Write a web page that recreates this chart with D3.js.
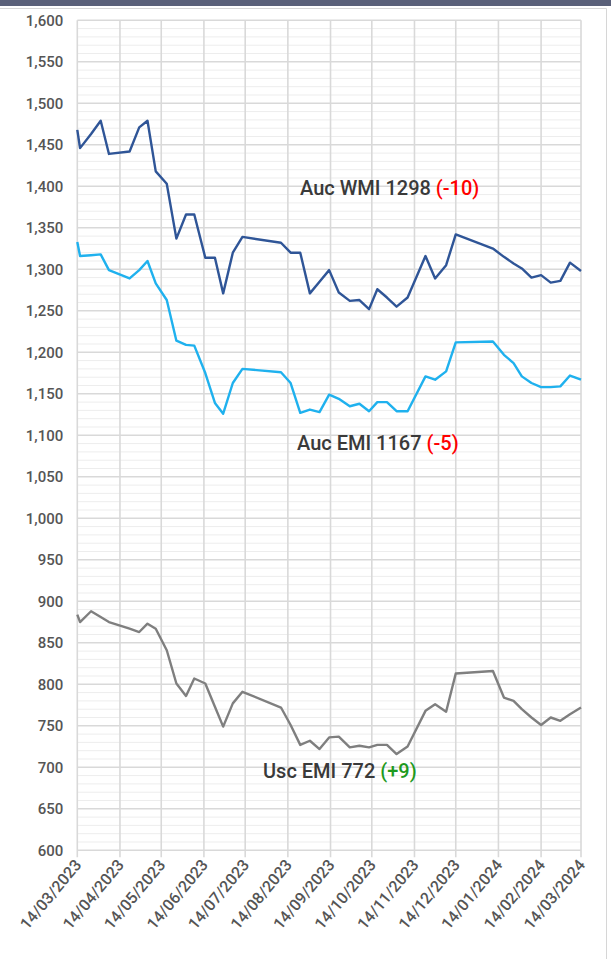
<!DOCTYPE html>
<html>
<head>
<meta charset="utf-8">
<script src="https://cdn.jsdelivr.net/npm/d3@7"></script>
<style>
  body { margin: 0; background: #fff; }
  text { font-family: Roboto, "Liberation Sans", sans-serif; }
</style>
</head>
<body>
<div id="chart"></div>
<script>
// weekly sale dates
const dates = [
  "2023-03-14", "2023-03-16", "2023-03-24", "2023-03-31", "2023-04-06",
  "2023-04-21", "2023-04-28", "2023-05-04", "2023-05-10", "2023-05-18",
  "2023-05-25", "2023-06-01", "2023-06-07", "2023-06-15", "2023-06-22",
  "2023-06-28", "2023-07-05", "2023-07-12", "2023-08-09", "2023-08-16",
  "2023-08-23", "2023-08-30", "2023-09-06", "2023-09-13", "2023-09-20",
  "2023-09-28", "2023-10-05", "2023-10-12", "2023-10-18", "2023-10-25",
  "2023-11-01", "2023-11-09", "2023-11-22", "2023-11-29", "2023-12-07",
  "2023-12-14", "2024-01-10", "2024-01-18", "2024-01-25", "2024-01-31",
  "2024-02-07", "2024-02-14", "2024-02-21", "2024-02-28", "2024-03-06",
  "2024-03-14"
];

const aucWmi = [
  1468, 1446, 1463, 1479, 1439, 1442, 1471, 1479, 1418, 1403,
  1337, 1366, 1366, 1314, 1314, 1271, 1320, 1339, 1332, 1320,
  1320, 1271, 1285, 1299, 1272, 1262, 1263, 1252, 1276, 1266,
  1255, 1266, 1316, 1289, 1305, 1342, 1325, 1315, 1307, 1301,
  1290, 1293, 1284, 1286, 1308, 1298
];

const aucEmi = [
  1333, 1316, 1317, 1318, 1299, 1289, 1299, 1310, 1283, 1263,
  1214, 1209, 1208, 1175, 1139, 1126, 1163, 1180, 1176, 1163,
  1127, 1131, 1128, 1149, 1144, 1135, 1138, 1129, 1140, 1140,
  1129, 1129, 1171, 1167, 1177, 1212, 1213, 1197, 1187, 1171,
  1163, 1158, 1158, 1159, 1172, 1167
];

const uscEmi = [
  884, 875, 888, 881, 875, 867, 863, 873, 867, 841,
  801, 786, 807, 801, 773, 749, 777, 791, 772, 751,
  727, 732, 722, 736, 737, 724, 726, 724, 727, 727,
  716, 725, 768, 776, 767, 813, 816, 784, 780, 770,
  760, 751, 760, 756, 764, 772
];

const xTickLabels = [
  "14/03/2023", "14/04/2023", "14/05/2023", "14/06/2023", "14/07/2023",
  "14/08/2023", "14/09/2023", "14/10/2023", "14/11/2023", "14/12/2023",
  "14/01/2024", "14/02/2024", "14/03/2024"
];

const yMin = 600, yMax = 1600, yStep = 50, yMinorStep = 10;

const width = 611, height = 959;
const plotLeft = 77.3, plotRight = 581, plotTop = 20.3, plotBottom = 850.3;

const parseDate = d3.timeParse("%Y-%m-%d");
const parseTick = d3.timeParse("%d/%m/%Y");

const svg = d3.select("#chart")
  .append("svg")
  .attr("width", width)
  .attr("height", height);

// frame + header bar
svg.append("rect").attr("x", 0).attr("y", 0).attr("width", width).attr("height", 6).attr("fill", "#5a6079");
svg.append("line").attr("x1", 0).attr("x2", 606.5).attr("y1", 8.5).attr("y2", 8.5).attr("stroke", "#d6d6d6");
svg.append("line").attr("x1", 606.5).attr("x2", 606.5).attr("y1", 8.5).attr("y2", height).attr("stroke", "#d6d6d6");

const tickDates = xTickLabels.map(parseTick);

const x = d3.scaleTime()
  .domain([tickDates[0], tickDates[tickDates.length - 1]])
  .range([plotLeft, plotRight]);

const y = d3.scaleLinear()
  .domain([yMin, yMax])
  .range([plotBottom, plotTop]);

// minor horizontal grid
svg.append("g")
  .selectAll("line")
  .data(d3.range(yMin, yMax + 1, yMinorStep).filter(v => v % yStep !== 0))
  .enter()
  .append("line")
  .attr("x1", plotLeft).attr("x2", plotRight)
  .attr("y1", d => y(d)).attr("y2", d => y(d))
  .attr("stroke", "#ededed")
  .attr("stroke-width", 1);

// major horizontal grid
const yTicks = d3.range(yMin, yMax + 1, yStep);
svg.append("g")
  .selectAll("line")
  .data(yTicks)
  .enter()
  .append("line")
  .attr("x1", plotLeft).attr("x2", plotRight)
  .attr("y1", d => y(d)).attr("y2", d => y(d))
  .attr("stroke", "#d9d9d9")
  .attr("stroke-width", 1.6);

// vertical month grid (with small tick below)
svg.append("g")
  .selectAll("line")
  .data(tickDates)
  .enter()
  .append("line")
  .attr("x1", d => x(d)).attr("x2", d => x(d))
  .attr("y1", plotTop).attr("y2", plotBottom + 7)
  .attr("stroke", "#d9d9d9")
  .attr("stroke-width", 1.6);

// y axis labels
const yAxis = svg.append("g")
  .attr("transform", `translate(${plotLeft},0)`)
  .call(d3.axisLeft(y).tickValues(yTicks).tickFormat(d3.format(",")).tickSize(0).tickPadding(14));
yAxis.select(".domain").remove();
yAxis.selectAll("text")
  .attr("fill", "#555555")
  .style("font-size", "15px")
  .style("font-weight", 500)
  .style("font-family", "Roboto, sans-serif");

// x axis labels, rotated
svg.append("g")
  .selectAll("text")
  .data(xTickLabels)
  .enter()
  .append("text")
  .attr("transform", d => `translate(${x(parseTick(d)) + 5},${plotBottom + 15}) rotate(-50)`)
  .attr("text-anchor", "end")
  .attr("fill", "#555555")
  .style("font-size", "16px")
  .style("font-weight", 500)
  .text(d => d);

// series
const series = [
  { name: "uscEmi", values: uscEmi, color: "#7f7f7f" },
  { name: "aucEmi", values: aucEmi, color: "#1fb1ee" },
  { name: "aucWmi", values: aucWmi, color: "#2f5597" }
];

const line = d3.line()
  .x(d => x(d[0]))
  .y(d => y(d[1]));

svg.append("g")
  .selectAll("path")
  .data(series)
  .enter()
  .append("path")
  .attr("d", s => line(dates.map((d, i) => [parseDate(d), s.values[i]])))
  .attr("fill", "none")
  .attr("stroke", s => s.color)
  .attr("stroke-width", 2.4)
  .attr("stroke-linejoin", "round");

// annotations
function addLabel(px, py, main, change, changeColor)
{
  const t = svg.append("text")
    .attr("x", px)
    .attr("y", py)
    .style("font-size", "20px")
    .style("font-weight", 500)
    .attr("fill", "#3a3a3a");
  t.append("tspan").text(main + " ");
  t.append("tspan").attr("fill", changeColor).text(change);
}

addLabel(300, 195, "Auc WMI 1298", "(-10)", "#ff0000");
addLabel(297, 450, "Auc EMI 1167", "(-5)", "#ff0000");
addLabel(263, 778, "Usc EMI 772", "(+9)", "#1e9a1e");
</script>
</body>
</html>
